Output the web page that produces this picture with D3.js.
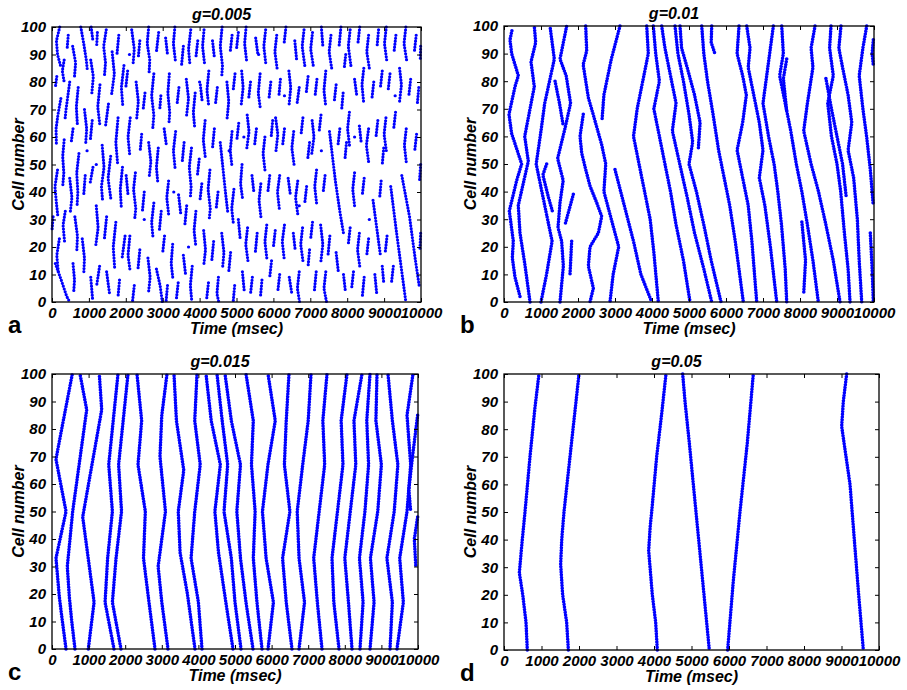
<!DOCTYPE html>
<html>
<head>
<meta charset="utf-8">
<script src="https://cdn.jsdelivr.net/npm/d3@7/dist/d3.min.js"></script>
<style>
  body { margin: 0; background: #fff; }
  text { font-family: "Liberation Sans", Arial, sans-serif; }
</style>
</head>
<body>
<svg id="fig" width="907" height="690"></svg>
<script>
// axis ticks and labels
const xTicks = [0, 1000, 2000, 3000, 4000, 5000, 6000, 7000, 8000, 9000, 10000];
const yTicks = [0, 10, 20, 30, 40, 50, 60, 70, 80, 90, 100];
const titles = ["g=0.005", "g=0.01", "g=0.015", "g=0.05"];
const letters = ["a", "b", "c", "d"];

const wavesA = [
  // 0-1000 ms
  [[210, 100], [120, 95], [150, 90], [230, 86]], [[780, 100], [860, 94], [930, 88], [960, 84]], [[440, 97], [410, 92]],
  [[330, 88], [280, 84], [330, 80]], [[560, 93], [640, 87], [610, 82]], [[130, 82], [90, 78]],
  [[480, 80], [430, 75], [380, 70], [350, 66]], [[710, 78], [660, 71], [690, 64]], [[240, 74], [160, 68], [110, 63], [120, 57]],
  [[880, 70], [940, 63], [910, 57]], [[570, 63], [520, 58]], [[330, 59], [290, 53], [320, 47], [290, 42]],
  [[730, 54], [670, 47], [700, 40], [680, 35]], [[150, 48], [80, 42], [120, 36], [160, 31]], [[480, 45], [540, 38], [490, 32]],
  [[900, 46], [860, 39]], [[360, 33], [300, 28], [340, 22]], [[620, 31], [690, 24], [670, 18]], [[200, 23], [130, 17], [170, 11]],
  [[90, 14], [250, 8], [400, 2], [480, 0]], [[570, 14], [610, 8], [590, 4]], [[820, 23], [880, 16], [860, 10]], [[30, 31], [0, 26]],
  // 1000-2000 ms
  [[1060, 100], [1110, 95]], [[1230, 98], [1210, 93]], [[1470, 99], [1400, 93], [1450, 87], [1420, 82]], [[1810, 97], [1760, 90]],
  [[1050, 88], [1120, 82], [1080, 76]], [[1630, 91], [1690, 83], [1610, 75]], [[1950, 86], [1880, 78], [1920, 71]],
  [[1300, 79], [1240, 71], [1300, 64]], [[1530, 72], [1450, 64]], [[1090, 66], [1040, 59]], [[1790, 67], [1730, 58], [1780, 50]],
  [[1360, 57], [1410, 49], [1340, 42], [1370, 37]], [[1110, 49], [1030, 43]], [[1590, 53], [1520, 45], [1600, 37]],
  [[1910, 49], [1850, 41], [1880, 34]], [[1200, 35], [1250, 27], [1180, 20]], [[1480, 31], [1420, 23]],
  [[1730, 29], [1660, 20], [1700, 12]], [[1980, 24], [1900, 16]], [[1290, 13], [1210, 6]], [[1480, 11], [1560, 3]],
  [[1050, 9], [1100, 1]], [[1830, 8], [1790, 2]],
  // 2000-3000 ms
  [[2160, 99], [2230, 92], [2200, 87]], [[2380, 95], [2340, 89]], [[2620, 100], [2580, 94], [2650, 88], [2630, 83]],
  [[2890, 98], [2830, 91]], [[2050, 84], [2000, 78]], [[2280, 80], [2340, 73], [2290, 66]], [[2520, 76], [2470, 70]],
  [[2760, 83], [2700, 75], [2760, 68], [2730, 63]], [[2950, 75], [2920, 70]], [[2120, 67], [2060, 60], [2110, 53]],
  [[2430, 61], [2390, 55]], [[2620, 58], [2680, 51], [2630, 45]], [[2880, 56], [2830, 49], [2870, 43]],
  [[2010, 46], [2060, 39]], [[2260, 47], [2210, 41], [2270, 34], [2240, 30]], [[2500, 40], [2450, 33]],
  [[2760, 36], [2700, 29], [2740, 23]], [[2960, 33], [2910, 26]], [[2110, 24], [2060, 17], [2120, 11]],
  [[2380, 19], [2330, 12]], [[2600, 16], [2660, 9], [2620, 4]], [[2830, 12], [2930, 6], [2990, 0]], [[2230, 6], [2180, 0]],
  // 3000-4000 ms
  [[3080, 96], [3130, 90]], [[3330, 100], [3290, 94], [3350, 87]], [[3560, 93], [3510, 86]], [[3760, 99], [3700, 92], [3740, 86]],
  [[3950, 95], [3900, 89]], [[3180, 83], [3140, 76], [3190, 69], [3170, 65]], [[3440, 78], [3390, 72]],
  [[3640, 81], [3700, 74], [3640, 67]], [[3880, 76], [3830, 69], [3870, 63]], [[3040, 63], [3100, 57]],
  [[3350, 62], [3290, 55], [3340, 48]], [[3580, 58], [3530, 51]], [[3780, 56], [3720, 49], [3770, 42], [3750, 38]],
  [[3990, 52], [3940, 46]], [[3160, 44], [3110, 38], [3160, 32]], [[3430, 39], [3490, 32]], [[3650, 35], [3600, 28]],
  [[3900, 33], [3850, 26], [3900, 20]], [[3050, 24], [3000, 18]], [[3270, 21], [3230, 14], [3280, 8]],
  [[3560, 17], [3620, 10]], [[3800, 13], [3750, 6], [3790, 0]], [[3130, 6], [3090, 0]], [[3420, 7], [3370, 1]],
  // 4000-5000 ms
  [[4120, 99], [4080, 93], [4140, 86]], [[4350, 95], [4400, 89]], [[4610, 100], [4560, 93], [4620, 86], [4600, 82]],
  [[4880, 97], [4830, 91]], [[4020, 79], [4070, 73]], [[4250, 84], [4200, 77], [4250, 71]], [[4480, 78], [4430, 72]],
  [[4740, 80], [4790, 73], [4740, 66]], [[4960, 83], [4910, 77]], [[4150, 66], [4100, 59], [4160, 52]],
  [[4400, 63], [4350, 56]], [[4560, 58], [4630, 49], [4700, 40], [4760, 33]], [[4880, 62], [4830, 55], [4880, 49]],
  [[4060, 43], [4010, 37]], [[4280, 48], [4230, 41], [4290, 34], [4260, 30]], [[4500, 40], [4450, 34]],
  [[4930, 41], [4870, 34], [4920, 28]], [[4110, 26], [4160, 19], [4110, 13]], [[4380, 22], [4330, 15]],
  [[4600, 25], [4660, 18], [4620, 12]], [[4840, 18], [4790, 11]], [[4240, 7], [4190, 1]], [[4510, 9], [4470, 3], [4520, 0]],
  [[4950, 6], [4910, 0]],
  // 5000-6000 ms
  [[5050, 98], [5000, 92]], [[5260, 100], [5220, 94], [5280, 87]], [[5520, 96], [5580, 90]], [[5790, 99], [5740, 93], [5800, 86]],
  [[5140, 84], [5180, 78], [5130, 72]], [[5380, 80], [5330, 74]], [[5640, 83], [5590, 76], [5650, 70]], [[5930, 80], [5880, 74]],
  [[5060, 65], [5010, 59]], [[5290, 68], [5340, 62], [5280, 56]], [[5540, 63], [5490, 57]], [[5770, 60], [5720, 54], [5780, 47]],
  [[5980, 66], [5940, 60]], [[5150, 50], [5110, 43], [5170, 37]], [[5420, 46], [5470, 40]], [[5660, 43], [5610, 37], [5670, 30]],
  [[5900, 46], [5850, 40]], [[5050, 30], [5100, 23]], [[5300, 27], [5250, 21], [5310, 15]], [[5560, 25], [5510, 18]],
  [[5820, 28], [5770, 22], [5830, 15]], [[5950, 15], [5900, 9]], [[5160, 11], [5210, 4]], [[5430, 9], [5380, 3]],
  [[5690, 8], [5650, 2]],
  // 6000-7000 ms
  [[6090, 97], [6040, 91], [6100, 85]], [[6340, 100], [6290, 94]], [[6580, 95], [6630, 88]], [[6830, 99], [6780, 93], [6850, 86]],
  [[6190, 81], [6150, 75]], [[6420, 84], [6470, 78], [6420, 71]], [[6700, 78], [6640, 72]], [[6940, 82], [6890, 76]],
  [[6060, 67], [6120, 61], [6070, 55]], [[6300, 63], [6250, 57]], [[6550, 62], [6500, 56], [6560, 50]], [[6800, 67], [6750, 61]],
  [[6980, 58], [6930, 52]], [[6170, 46], [6110, 40], [6160, 34]], [[6400, 45], [6460, 39]], [[6660, 44], [6600, 38], [6660, 32]],
  [[6900, 42], [6850, 36]], [[6050, 26], [6000, 20]], [[6300, 28], [6240, 22], [6290, 16]], [[6540, 25], [6590, 19]],
  [[6790, 27], [6740, 21], [6800, 15]], [[6980, 19], [6940, 13]], [[6170, 10], [6120, 4]], [[6430, 9], [6500, 3]],
  [[6700, 11], [6650, 5], [6710, 0]],
  // 7000-8000 ms
  [[7060, 98], [7010, 92], [7080, 86]], [[7300, 100], [7340, 93]], [[7560, 97], [7510, 91], [7580, 85]], [[7830, 100], [7780, 93]],
  [[7960, 90], [7920, 85]], [[7180, 81], [7130, 75]], [[7420, 84], [7370, 77], [7420, 71]], [[7700, 79], [7650, 73]],
  [[7890, 76], [7850, 70]], [[7050, 66], [7100, 60], [7040, 54]], [[7290, 68], [7240, 62]], [[7520, 62], [7600, 53], [7680, 44], [7800, 33], [7900, 25]],
  [[7800, 63], [7750, 57]], [[7980, 58], [7940, 52]], [[7170, 48], [7120, 42], [7170, 36]], [[7400, 46], [7350, 40]],
  [[7060, 29], [7010, 23]], [[7280, 28], [7340, 21], [7280, 14]], [[7530, 24], [7480, 17]], [[7700, 18], [7760, 11]],
  [[7160, 11], [7110, 4]], [[7420, 11], [7370, 5], [7440, 0]], [[7900, 10], [7950, 4]],
  // 8000-9000 ms
  [[8080, 99], [8030, 93], [8100, 86]], [[8340, 100], [8290, 94]], [[8580, 97], [8530, 91], [8600, 85]], [[8850, 99], [8810, 93]],
  [[8200, 81], [8260, 75]], [[8450, 85], [8400, 79], [8450, 72]], [[8720, 80], [8670, 74]], [[8950, 84], [8900, 78]],
  [[8060, 69], [8010, 63], [8070, 56]], [[8330, 64], [8380, 58]], [[8580, 63], [8520, 57], [8580, 51]], [[8830, 66], [8780, 60]],
  [[8990, 56], [8950, 50]], [[8200, 47], [8150, 41], [8200, 35]], [[8460, 45], [8410, 39]], [[8700, 37], [8800, 27], [8900, 17]],
  [[8920, 44], [8880, 38]], [[8080, 27], [8030, 21]], [[8330, 25], [8280, 19], [8340, 13]], [[8580, 23], [8530, 17]],
  [[8170, 11], [8120, 5]], [[8460, 9], [8410, 2]], [[8750, 10], [8800, 3]], [[8950, 13], [8990, 7]],
  // 9000-10000 ms
  [[9060, 100], [9010, 94], [9070, 88]], [[9320, 97], [9270, 91]], [[9590, 100], [9540, 94], [9610, 88]], [[9870, 97], [9820, 91]],
  [[9990, 93], [9980, 88]], [[9160, 83], [9110, 77]], [[9420, 85], [9470, 79], [9420, 73]], [[9720, 81], [9670, 75]],
  [[9940, 78], [9900, 72]], [[9050, 67], [9000, 61], [9060, 55]], [[9310, 69], [9260, 63]], [[9600, 63], [9550, 57], [9600, 51]],
  [[9880, 61], [9830, 55]], [[9990, 50], [9960, 44]], [[9180, 42], [9330, 26], [9480, 11], [9590, 0]],
  [[9480, 46], [9690, 31], [9840, 16], [9950, 6]], [[9080, 24], [9030, 18]], [[9250, 13], [9200, 7]], [[9990, 25], [9970, 19]]
];
const dotsA = [[1200, 50], [2500, 30], [4000, 80], [3300, 40], [5600, 90], [6300, 75], [7300, 55], [8600, 30],
  [950, 55], [4800, 55], [6700, 35], [9300, 75], [2100, 90], [5200, 60], [8200, 60], [3700, 20]];

const wavesB = [
  [[432, 2], [297, 9], [225, 16], [252, 22], [144, 33], [342, 44], [477, 50], [207, 61], [135, 68], [297, 78], [387, 82], [207, 90], [162, 95], [225, 99]],
  [[703, 0], [560, 14], [432, 25], [386, 35], [657, 51], [560, 60], [819, 78], [730, 87], [856, 94], [819, 100]],
  [[1000, 0], [1150, 10], [1300, 22], [1100, 35], [870, 50], [1000, 62], [1100, 72], [1360, 88], [1243, 100]],
  [[1153, 50], [1050, 46], [1200, 38], [1306, 33]],
  [[1514, 0], [1604, 13], [1558, 22], [1460, 27], [1514, 36], [1600, 44], [1450, 52], [1650, 63], [1800, 72], [1680, 82], [1514, 88], [1694, 100]],
  [[1380, 80], [1500, 72], [1600, 64]],
  [[1874, 39], [1649, 28]], [[1829, 22], [1784, 10]],
  [[2208, 100], [2235, 91], [2140, 86], [2280, 74], [2410, 68], [2640, 57], [2750, 50], [2700, 40], [2900, 30], [3100, 20], [2950, 10], [2865, 0]],
  [[2143, 68], [2054, 60], [2100, 54], [2208, 48], [2325, 42], [2505, 36], [2640, 31], [2550, 25], [2325, 20], [2280, 13], [2415, 5], [2325, 0]],
  [[3135, 100], [2900, 88], [2700, 75], [2650, 66]],
  [[3000, 48], [3250, 35], [3500, 22], [3700, 10], [3992, 0]],
  [[3857, 100], [3900, 90], [3750, 80], [3600, 70], [3500, 60], [3650, 50], [3800, 40], [3950, 30], [4050, 18], [4171, 0]],
  [[4035, 100], [4100, 90], [4200, 80], [4050, 70], [4200, 60], [4350, 50], [4500, 40], [4650, 28], [4850, 15], [5028, 0]],
  [[4262, 100], [4350, 92], [4500, 82], [4650, 72], [4550, 62], [4750, 50], [4950, 38], [5150, 25], [5400, 12], [5614, 0]],
  [[4622, 100], [4700, 90], [4850, 80], [5000, 68], [5100, 58], [5000, 50], [5200, 40], [5400, 28], [5600, 15], [5865, 0]],
  [[4757, 100], [4800, 92], [4950, 85], [5150, 75], [5300, 65], [5250, 55]],
  [[5344, 100], [5400, 90], [5500, 80], [5650, 68], [5800, 55], [5950, 45], [6100, 35], [6250, 22], [6350, 12], [6468, 0]],
  [[5614, 100], [5600, 94], [5700, 90]],
  [[6352, 100], [6300, 90], [6450, 82], [6550, 75], [6450, 65], [6300, 55], [6450, 45], [6600, 35], [6700, 22], [6830, 0]],
  [[6560, 100], [6650, 92], [6600, 85], [6750, 75], [6900, 65], [7000, 55], [6900, 45], [7050, 35], [7200, 20], [7371, 0]],
  [[7280, 100], [7200, 92], [7100, 82], [7000, 72], [7150, 60], [7300, 50], [7400, 40], [7500, 28], [7600, 12], [7641, 0]],
  [[7506, 100], [7550, 90], [7450, 82], [7600, 72], [7750, 62], [7900, 50], [8050, 40], [8200, 28], [8350, 15], [8495, 0]],
  [[7641, 88], [7551, 81], [7596, 75], [7641, 69]],
  [[8050, 29], [8150, 15], [8100, 3]],
  [[8406, 100], [8300, 92], [8350, 85], [8200, 72], [8100, 62], [8300, 50], [8500, 40], [8700, 28], [8900, 15], [9082, 0]],
  [[8700, 81], [8850, 70], [9000, 60], [9150, 50], [9250, 38]],
  [[8838, 100], [8800, 92], [8900, 82], [8750, 72], [8850, 60], [9000, 50], [9100, 40], [9200, 25], [9300, 12], [9352, 0]],
  [[9108, 100], [9050, 92], [9150, 85], [9300, 75], [9400, 65], [9300, 55], [9450, 45], [9550, 30], [9600, 15], [9668, 0]],
  [[9803, 100], [9700, 92], [9600, 82], [9700, 70], [9800, 60], [9900, 48], [9980, 35]],
  [[9982, 95], [9950, 90], [9980, 86]],
  [[9900, 25], [9950, 12], [9982, 0]]
];

const wavesC = [
  [[383, 0], [265, 12], [200, 19], [109, 33], [383, 50], [109, 69], [265, 80], [555, 100]],
  [[628, 0], [540, 10], [473, 19], [418, 30], [492, 40], [565, 50], [948, 87], [765, 100]],
  [[992, 0], [1150, 17], [839, 48], [1358, 87], [1292, 100]],
  [[1694, 0], [1450, 17], [1520, 33], [1650, 50], [1550, 67], [1803, 100]],
  [[1885, 0], [1650, 17], [1750, 33], [1900, 50], [1820, 67], [2077, 100]],
  [[2814, 0], [2650, 17], [2500, 33], [2550, 50], [2350, 67], [2450, 83], [2322, 100]],
  [[3169, 0], [3000, 17], [2900, 30], [3100, 50], [2950, 70], [3000, 85], [3142, 100]],
  [[3907, 0], [3700, 20], [3500, 35], [3450, 50], [3600, 65], [3400, 83], [3333, 100]],
  [[4098, 0], [4000, 17], [3800, 33], [3900, 50], [4050, 67], [3900, 83], [3962, 100]],
  [[4945, 0], [4750, 17], [4550, 35], [4450, 50], [4600, 67], [4350, 83], [4208, 100]],
  [[5164, 0], [5000, 17], [4900, 33], [4700, 50], [4800, 67], [4650, 83], [4508, 100]],
  [[5492, 0], [5300, 17], [5150, 33], [5050, 50], [5150, 67], [4900, 83], [4727, 100]],
  [[5738, 0], [5600, 17], [5500, 33], [5550, 50], [5450, 67], [5500, 83], [5301, 100]],
  [[5902, 0], [6050, 17], [5850, 33], [5750, 50], [5900, 67], [6100, 83], [5902, 100]],
  [[6557, 0], [6400, 17], [6300, 33], [6500, 50], [6350, 67], [6400, 83], [6475, 100]],
  [[6749, 0], [6900, 17], [6750, 33], [6700, 50], [6850, 67], [7000, 83], [7077, 100]],
  [[7377, 0], [7250, 17], [7150, 33], [7300, 50], [7450, 67], [7400, 83], [7514, 100]],
  [[7842, 0], [7700, 17], [7650, 33], [7800, 50], [7950, 67], [7900, 83], [8060, 100]],
  [[8197, 0], [8100, 17], [8000, 33], [8150, 50], [8300, 67], [8250, 83], [8470, 100]],
  [[8415, 0], [8500, 17], [8400, 33], [8550, 50], [8650, 67], [8600, 83], [8689, 100]],
  [[8689, 0], [8800, 17], [8700, 33], [8900, 50], [9000, 67], [8850, 83], [8880, 100]],
  [[9235, 0], [9300, 17], [9150, 33], [9350, 50], [9450, 67], [9300, 83], [9180, 100]],
  [[9426, 0], [9600, 17], [9500, 33], [9700, 50], [9800, 67], [9700, 85], [9863, 100]],
  [[9990, 85], [9850, 70], [9750, 58], [9800, 50]],
  [[9990, 48], [9900, 40], [9940, 30]]
];

const wavesD = [
  [[621, 0], [587, 10], [500, 20], [409, 28], [488, 40], [560, 50], [693, 70], [827, 88], [933, 100]],
  [[1716, 0], [1671, 10], [1564, 20], [1511, 31], [1540, 40], [1600, 50], [1760, 70], [1880, 85], [2000, 100]],
  [[4088, 0], [4045, 10], [3955, 20], [3858, 36], [3900, 45], [3938, 50], [4071, 70], [4200, 85], [4320, 100]],
  [[4765, 100], [4827, 90], [4942, 75], [5120, 50], [5298, 25], [5475, 0]],
  [[5964, 0], [6115, 25], [6293, 50], [6488, 75], [6648, 100]],
  [[9138, 100], [9048, 90], [9005, 81], [9227, 60], [9342, 40], [9458, 20], [9582, 0]]
];

const panels = [
  { box: { x0: 52, x1: 421, y0: 27, y1: 302 }, waves: wavesA, dots: dotsA, width: 3.2, gap: 3 },
  { box: { x0: 504, x1: 874, y0: 26, y1: 302 }, waves: wavesB, dots: [], width: 3.6, gap: 2.7 },
  { box: { x0: 52, x1: 418, y0: 374, y1: 649 }, waves: wavesC, dots: [], width: 3.6, gap: 2.7 },
  { box: { x0: 504, x1: 879, y0: 374, y1: 650 }, waves: wavesD, dots: [], width: 3.6, gap: 2.7 }
];

const svg = d3.select("#fig");
const blue = "#0000ff";

panels.forEach((p, i) => {
  const b = p.box;
  const x = d3.scaleLinear().domain([0, 10000]).range([b.x0, b.x1]);
  const y = d3.scaleLinear().domain([0, 100]).range([b.y1, b.y0]);
  const g = svg.append("g");

  // raster waves drawn as strings of dots
  const line = d3.line().x(d => x(d[0])).y(d => y(d[1]));
  g.selectAll("path.wave")
    .data(p.waves)
    .enter().append("path")
    .attr("class", "wave")
    .attr("d", line)
    .attr("fill", "none")
    .attr("stroke", blue)
    .attr("stroke-width", p.width)
    .attr("stroke-linecap", "round")
    .attr("stroke-linejoin", "round")
    .attr("stroke-dasharray", `0 ${p.gap}`);

  g.selectAll("circle.spike")
    .data(p.dots)
    .enter().append("circle")
    .attr("class", "spike")
    .attr("cx", d => x(d[0]))
    .attr("cy", d => y(d[1]))
    .attr("r", 1.6)
    .attr("fill", blue);

  // axes with inward ticks on all four sides
  const tickStyle = sel => {
    sel.select(".domain").remove();
    sel.selectAll(".tick line").attr("stroke", "#000").attr("stroke-width", 1);
    sel.selectAll("text")
      .attr("font-size", 15)
      .attr("font-weight", "bold")
      .attr("font-style", "italic")
      .attr("fill", "#000");
  };
  g.append("g").attr("transform", `translate(0,${b.y1})`)
    .call(d3.axisBottom(x).tickValues(xTicks).tickFormat(d3.format("d")).tickSizeInner(-4).tickSizeOuter(0).tickPadding(5))
    .call(tickStyle);
  g.append("g").attr("transform", `translate(${b.x0},0)`)
    .call(d3.axisLeft(y).tickValues(yTicks).tickSizeInner(-4).tickSizeOuter(0).tickPadding(6))
    .call(tickStyle);
  g.append("g").attr("transform", `translate(0,${b.y0})`)
    .call(d3.axisTop(x).tickValues(xTicks).tickFormat("").tickSizeInner(-4).tickSizeOuter(0))
    .call(tickStyle);
  g.append("g").attr("transform", `translate(${b.x1},0)`)
    .call(d3.axisRight(y).tickValues(yTicks).tickFormat("").tickSizeInner(-4).tickSizeOuter(0))
    .call(tickStyle);

  g.append("rect")
    .attr("x", b.x0).attr("y", b.y0)
    .attr("width", b.x1 - b.x0).attr("height", b.y1 - b.y0)
    .attr("fill", "none").attr("stroke", "#000").attr("stroke-width", 1.3);

  const cx = (b.x0 + b.x1) / 2;
  g.append("text")
    .attr("x", cx - 15).attr("y", b.y0 - 7)
    .attr("text-anchor", "middle")
    .attr("font-size", 16).attr("font-weight", "bold").attr("font-style", "italic")
    .text(titles[i]);

  g.append("text")
    .attr("x", cx).attr("y", b.y1 + 32)
    .attr("text-anchor", "middle")
    .attr("font-size", 16).attr("font-weight", "bold").attr("font-style", "italic")
    .text("Time (msec)");

  g.append("text")
    .attr("transform", `translate(${b.x0 - 28},${(b.y0 + b.y1) / 2}) rotate(-90)`)
    .attr("text-anchor", "middle")
    .attr("font-size", 16).attr("font-weight", "bold").attr("font-style", "italic")
    .text("Cell number");

  g.append("text")
    .attr("x", b.x0 - 44).attr("y", b.y1 + 31)
    .attr("font-family", "Liberation Serif, Times New Roman, serif")
    .attr("font-size", 24).attr("font-weight", "bold")
    .text(letters[i]);
});
</script>
</body>
</html>
